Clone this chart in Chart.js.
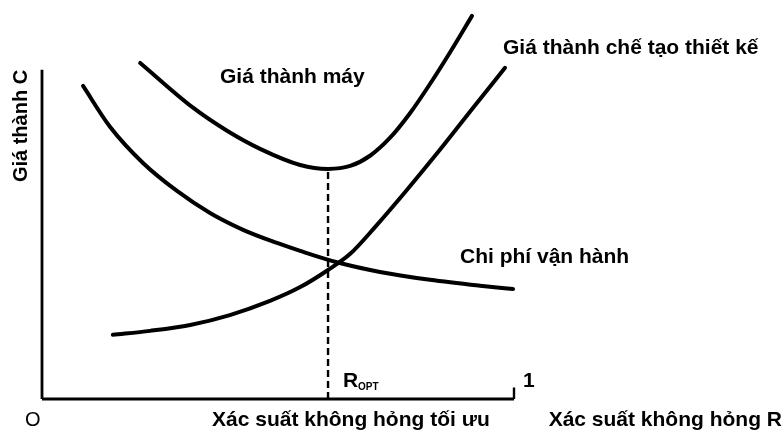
<!DOCTYPE html>
<html>
<head>
<meta charset="utf-8">
<script src="https://cdn.jsdelivr.net/npm/chart.js@4.4.1/dist/chart.umd.min.js"></script>
<style>
  body { margin: 0; background: #fff; }
  canvas { display: block; }
</style>
</head>
<body>
<canvas id="canvas" width="784" height="432"></canvas>
<script>
// R = xác suất không hỏng (0..1), C = giá thành (đơn vị tương đối)
var rMay = [0.208, 0.320, 0.392, 0.462, 0.547, 0.606, 0.653, 0.695, 0.737, 0.780, 0.822, 0.864, 0.911];
var cMay = [1.021, 0.885, 0.815, 0.760, 0.711, 0.699, 0.708, 0.739, 0.793, 0.869, 0.957, 1.052, 1.164];

var rCheTao = [0.150, 0.229, 0.314, 0.398, 0.483, 0.547, 0.606, 0.653, 0.706, 0.773, 0.843, 0.913, 0.981];
var cCheTao = [0.195, 0.207, 0.225, 0.255, 0.298, 0.340, 0.392, 0.441, 0.523, 0.635, 0.757, 0.884, 1.006];

var rVanHanh = [0.087, 0.144, 0.214, 0.286, 0.356, 0.426, 0.498, 0.547, 0.631, 0.716, 0.822, 0.928, 0.998];
var cVanHanh = [0.951, 0.827, 0.717, 0.632, 0.565, 0.514, 0.474, 0.450, 0.413, 0.386, 0.362, 0.344, 0.334];

var rOpt = 0.606;
var cOpt = 0.699;

function pts(xs, ys) {
  var out = [];
  for (var i = 0; i < xs.length; i++) out.push({ x: xs[i], y: ys[i] });
  return out;
}

function curve(xs, ys) {
  return {
    data: pts(xs, ys),
    borderColor: '#000',
    borderWidth: 4,
    pointRadius: 0,
    cubicInterpolationMode: 'monotone',
    borderCapStyle: 'round',
    clip: false
  };
}

function straight(xs, ys, w, dash) {
  return {
    data: pts(xs, ys),
    borderColor: '#000',
    borderWidth: w,
    borderDash: dash || [],
    pointRadius: 0,
    tension: 0,
    clip: false
  };
}

var textPlugin = {
  id: 'texts',
  afterDraw: function(chart) {
    var ctx = chart.ctx;
    var xs = chart.scales.x, ys = chart.scales.y;
    ctx.save();
    ctx.fillStyle = '#000';
    ctx.textBaseline = 'middle';
    ctx.textAlign = 'left';
    var f = 'bold 21px "Liberation Sans", Arial, sans-serif';
    ctx.font = f;
    ctx.fillText('Giá thành máy', 220, 77);
    ctx.fillText('Giá thành chế tạo thiết kế', 503, 48);
    ctx.fillText('Chi phí vận hành', 460, 257);
    ctx.fillText('Xác suất không hỏng tối ưu', 212, 420);
    ctx.textAlign = 'right';
    ctx.fillText('Xác suất không hỏng R', 782, 420);
    ctx.textAlign = 'left';
    ctx.font = '20px "Liberation Sans", Arial, sans-serif';
    ctx.fillText('O', xs.getPixelForValue(0) - 17, 420);
    ctx.font = f;
    ctx.fillText('1', xs.getPixelForValue(1) + 9, ys.getPixelForValue(0) - 18);
    // R_OPT
    var px = xs.getPixelForValue(rOpt) + 15;
    ctx.fillText('R', px, 381);
    ctx.font = 'bold 10px "Liberation Sans", Arial, sans-serif';
    ctx.fillText('OPT', px + 15, 387);
    // nhãn trục tung
    ctx.font = 'bold 20px "Liberation Sans", Arial, sans-serif';
    ctx.translate(21, 126);
    ctx.rotate(-Math.PI / 2);
    ctx.textAlign = 'center';
    ctx.fillText('Giá thành C', 0, 0);
    ctx.restore();
  }
};

var ctx = document.getElementById('canvas').getContext('2d');
new Chart(ctx, {
  type: 'line',
  data: {
    datasets: [
      straight([0, 0], [0, 1], 2.8),
      straight([0, 1], [0, 0], 2.8),
      straight([1, 1], [0, 0.035], 2.4),
      straight([rOpt, rOpt], [0, cOpt], 2.4, [7, 4]),
      curve(rMay, cMay),
      curve(rCheTao, cCheTao),
      curve(rVanHanh, cVanHanh)
    ]
  },
  options: {
    responsive: false,
    animation: false,
    layout: { padding: { left: 42, right: 270, top: 4, bottom: 33 } },
    plugins: { legend: { display: false }, tooltip: { enabled: false } },
    scales: {
      x: { type: 'linear', min: 0, max: 1, display: false },
      y: { type: 'linear', min: 0, max: 1.2, display: false }
    }
  },
  plugins: [textPlugin]
});
</script>
</body>
</html>
